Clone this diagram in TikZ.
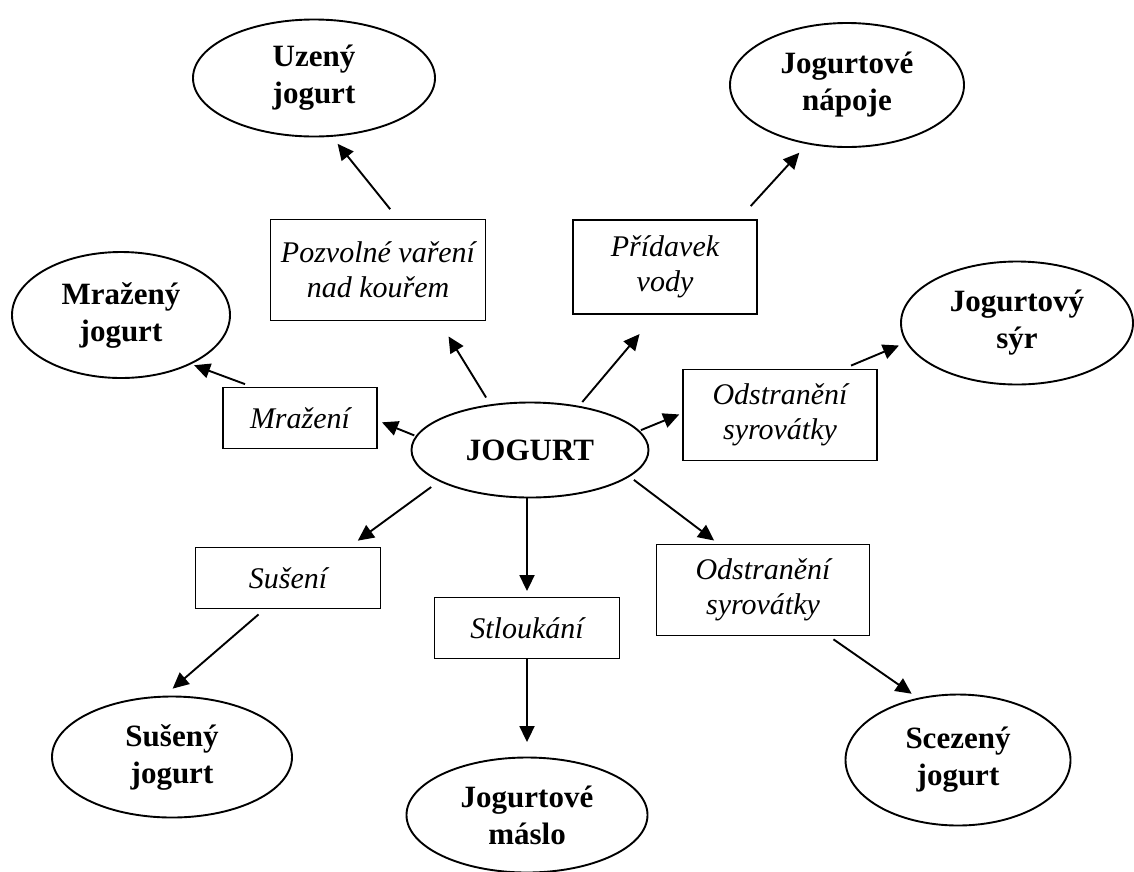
\documentclass[tikz,border=0pt]{standalone}
\usepackage{fontspec}
\setmainfont{Liberation Serif}
\usetikzlibrary{arrows.meta, shapes.geometric}

\begin{document}
\begin{tikzpicture}[x=1pt, y=-1pt,
  product/.style={ellipse, draw, line width=1.9pt, align=center, inner sep=1pt, font=\bfseries\fontsize{31}{37}\selectfont},
  process/.style={rectangle, draw, line width=1.9pt, align=center, inner sep=2pt, font=\itshape\fontsize{30}{35}\selectfont},
  flow/.style={-{Triangle[length=16pt, width=15pt]}, line width=1.9pt}]
\useasboundingbox (0,0) rectangle (1134,871);
\node[product, minimum width=237pt, minimum height=95pt] (jogurt) at (530,450) {JOGURT};
\node[product, minimum width=242pt, minimum height=117pt] (uzeny) at (314,78) {Uzený\\jogurt};
\node[product, minimum width=234pt, minimum height=124pt] (napoje) at (847,85) {Jogurtové\\nápoje};
\node[product, minimum width=218pt, minimum height=126pt] (mrazeny) at (121,315) {Mražený\\jogurt};
\node[product, minimum width=232pt, minimum height=123pt] (syr) at (1017,323) {Jogurtový\\sýr};
\node[product, minimum width=240pt, minimum height=121pt] (suseny) at (172,757) {Sušený\\jogurt};
\node[product, minimum width=241pt, minimum height=115pt] (maslo) at (527,815) {Jogurtové\\máslo};
\node[product, minimum width=225pt, minimum height=131pt] (scezeny) at (958,760) {Scezený\\jogurt};
\node[process, minimum width=215pt, minimum height=101pt] (smoke) at (378,270) {Pozvolné vaření\\nad kouřem};
\node[process, minimum width=184pt, minimum height=94pt] (water) at (665,267) {Přídavek\\vody};
\node[process, minimum width=154pt, minimum height=61pt] (freeze) at (300,418) {Mražení};
\node[process, minimum width=194pt, minimum height=91pt] (wheytop) at (780,415) {Odstranění\\syrovátky};
\node[process, minimum width=185pt, minimum height=61pt] (dry) at (288,578) {Sušení};
\node[process, minimum width=185pt, minimum height=61pt] (churn) at (527,628) {Stloukání};
\node[process, minimum width=213pt, minimum height=91pt] (wheybot) at (763,590) {Odstranění\\syrovátky};
\draw[flow, shorten <=8pt, shorten >=17.6pt] (jogurt.131) -- (smoke.320);
\draw[flow, shorten <=12pt, shorten >=9pt] (smoke.69) -- (uzeny.287);
\draw[flow, shorten <=5pt, shorten >=25pt] (jogurt.42) -- (water.259);
\draw[flow, shorten <=17.6pt, shorten >=11.5pt] (water.33) -- (napoje.236);
\draw[flow, shorten <=1.5pt, shorten >=4.3pt] (jogurt.173) -- (freeze.358);
\draw[flow, shorten <=7pt, shorten >=3pt] (freeze.147) -- (mrazeny.325);
\draw[flow, shorten <=1.5pt, shorten >=3pt] (jogurt.10) -- (wheytop.179);
\draw[flow, shorten <=7.7pt, shorten >=7.6pt] (wheytop.36) -- (syr.190);
\draw[flow, shorten <=9.6pt, shorten >=10pt] (jogurt.199) -- (dry.27);
\draw[flow, shorten <=7.6pt, shorten >=10.8pt] (dry.233) -- (suseny.97);
\draw[flow, shorten >=5.5pt] (churn.north |- jogurt.south) -- (churn.north);
\draw[flow, shorten >=14.5pt] (churn.south) -- (maslo.north);
\draw[flow, shorten <=5.3pt, shorten >=5pt] (jogurt.345) -- (wheybot.134);
\draw[flow, shorten <=5pt, shorten >=7.3pt] (wheybot.325) -- (scezeny.123);
\end{tikzpicture}
\end{document}
